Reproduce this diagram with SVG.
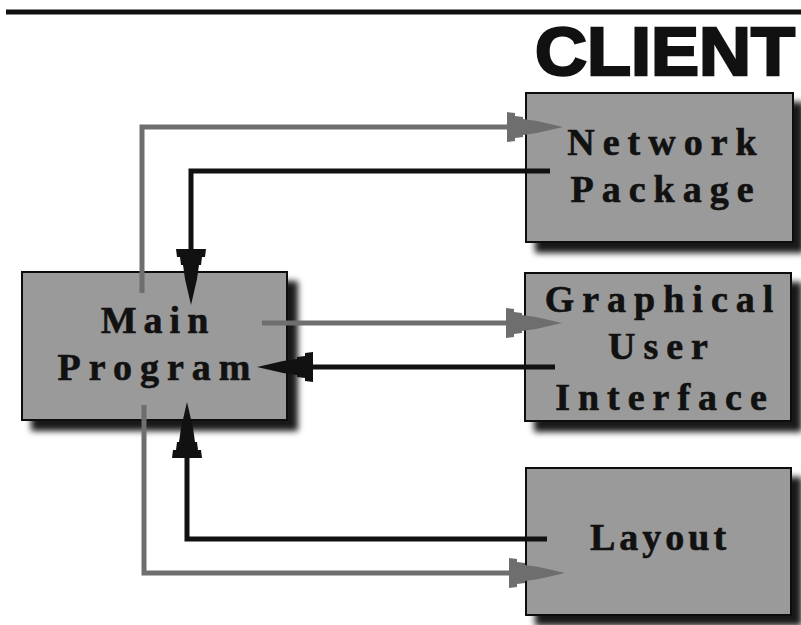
<svg xmlns="http://www.w3.org/2000/svg" width="801" height="625" viewBox="0 0 801 625">
<style>
.box{fill:#9a9a9a;stroke:#111;stroke-width:2;filter:url(#sh)}
.lbl{font-family:"Liberation Serif","Times New Roman",serif;font-weight:bold;font-size:38px;fill:#111;stroke:#111;stroke-width:0.6;text-anchor:middle;letter-spacing:8px}
.g{fill:none;stroke:#6e6e6e;stroke-width:5}
.k{fill:none;stroke:#111;stroke-width:5}
</style>
<defs>
<filter id="sh" x="-10%" y="-10%" width="130%" height="130%">
<feDropShadow dx="10" dy="10" stdDeviation="3" flood-color="#000" flood-opacity="0.9"/>
</filter>
<marker id="ag" markerUnits="userSpaceOnUse" viewBox="0 -16 60 32" markerWidth="60" markerHeight="32" refX="36" refY="0" orient="auto">
<path d="M0,-15 L8,-14 L8,-11 L16,-10 L16,-8 L30,-6 L56,0 L30,6 L16,8 L16,10 L8,11 L8,14 L0,15 Z" fill="#6e6e6e"/>
</marker>
<marker id="ak" markerUnits="userSpaceOnUse" viewBox="0 -16 60 32" markerWidth="60" markerHeight="32" refX="36" refY="0" orient="auto">
<path d="M0,-15 L8,-14 L8,-11 L16,-10 L16,-8 L30,-6 L56,0 L30,6 L16,8 L16,10 L8,11 L8,14 L0,15 Z" fill="#111"/>
</marker>
</defs>
<rect width="801" height="625" fill="#fff"/>
<line x1="6" y1="12" x2="801" y2="12" stroke="#111" stroke-width="5"/>
<text x="535" y="75" font-family="'Liberation Sans',Arial,sans-serif" font-weight="bold" font-size="68" fill="#111" stroke="#111" stroke-width="2.5" textLength="260" lengthAdjust="spacingAndGlyphs">CLIENT</text>
<g id="main">
<rect class="box" x="22" y="272" width="265" height="148"/>
<text class="lbl" x="158" y="333" style="letter-spacing:7px">Main</text>
<text class="lbl" x="158" y="380">Program</text>
</g>
<g id="network">
<rect class="box" x="526" y="93" width="267" height="149"/>
<text class="lbl" x="666" y="155">Network</text>
<text class="lbl" x="666" y="202">Package</text>
</g>
<g id="gui">
<rect class="box" x="525" y="273" width="266" height="148"/>
<text class="lbl" x="663" y="312">Graphical</text>
<text class="lbl" x="662" y="359">User</text>
<text class="lbl" x="665" y="410">Interface</text>
</g>
<g id="layout">
<rect class="box" x="526" y="468" width="265" height="147"/>
<text class="lbl" x="660" y="550" style="letter-spacing:4px">Layout</text>
</g>
<g id="connectors">
<polyline class="g" points="142,293 142,127 543,127" marker-end="url(#ag)"/>
<polyline class="k" points="550,171 191,171 191,285" marker-end="url(#ak)"/>
<polyline class="g" points="262,323 542,323" marker-end="url(#ag)"/>
<polyline class="k" points="555,367 277,367" marker-end="url(#ak)"/>
<polyline class="k" points="547,539 187,539 187,422" marker-end="url(#ak)"/>
<polyline class="g" points="144,405 144,573 545,573" marker-end="url(#ag)"/>
</g>
</svg>
